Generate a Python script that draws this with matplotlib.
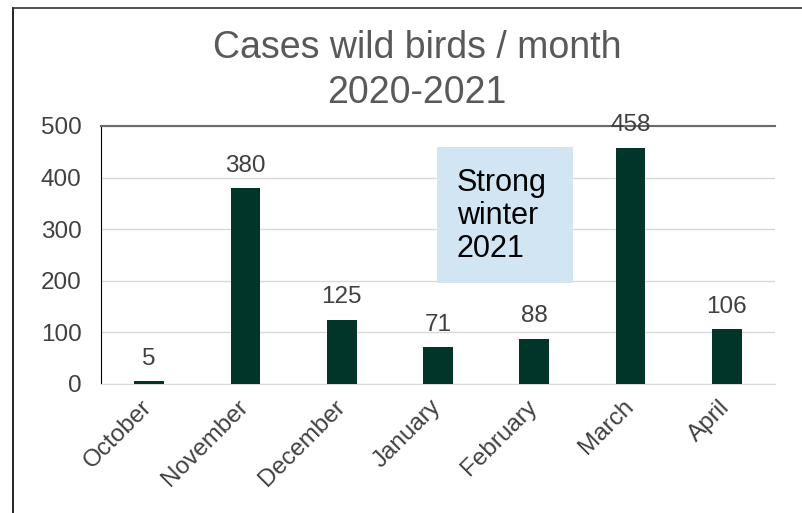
import matplotlib.pyplot as plt
from matplotlib.lines import Line2D
from matplotlib.transforms import ScaledTranslation

months = ["October", "November", "December", "January", "February", "March", "April"]
cases = [5, 380, 125, 71, 88, 458, 106]
yticks = [0, 100, 200, 300, 400, 500]

plt.rcParams['font.family'] = ['Liberation Sans', 'DejaVu Sans']

fig = plt.figure(figsize=(8.03, 5.13), dpi=100)
ax = fig.add_axes([101 / 803, 1 - 384 / 513, 674 / 803, 258 / 513])

bars = ax.bar(range(len(months)), cases, width=0.31, color="#02352a", zorder=3)
for b, v in zip(bars, cases):
    ax.text(b.get_x() + b.get_width() / 2, v + 22, str(v), ha="center", va="bottom",
            fontsize=17.5, color="#404040", zorder=4)

ax.set_xlim(-0.5, len(months) - 0.5)
ax.set_ylim(0, 500)
ax.set_yticks(yticks)
ax.set_yticklabels([str(t) for t in yticks], fontsize=17.5, color="#404040")
ax.set_xticks(range(len(months)))
ax.set_xticklabels(months, rotation=45, ha="right", rotation_mode="anchor",
                   fontsize=17.5, color="#404040")
ax.tick_params(axis="y", length=0, pad=14)
ax.tick_params(axis="x", length=0, pad=10)
shift = ScaledTranslation(-8 / 100, 2 / 100, fig.dpi_scale_trans)
for lbl in ax.get_xticklabels():
    lbl.set_transform(lbl.get_transform() + shift)

ax.grid(axis="y", color="#d9d9d9", linewidth=1, zorder=0)
ax.spines["right"].set_visible(False)
ax.spines["top"].set_color("#6b6b6b")
ax.spines["top"].set_linewidth(1.5)
ax.spines["bottom"].set_color("#d9d9d9")
ax.spines["left"].set_color("#000000")
ax.spines["left"].set_linewidth(0.8)

fig.text(417 / 803, 1 - 48 / 513, "Cases wild birds / month", ha="center", va="center",
         fontsize=27, color="#595959")
fig.text(417 / 803, 1 - 93 / 513, "2020-2021", ha="center", va="center",
         fontsize=27, color="#595959")

# text box
fig.patches.append(plt.Rectangle((437 / 803, 1 - 283 / 513), 136 / 803, 136 / 513,
                                 transform=fig.transFigure, facecolor="#d2e5f3",
                                 edgecolor="none", zorder=5))
fig.text(457 / 803, 1 - 216 / 513, "Strong\nwinter\n2021", ha="left", va="center",
         fontsize=22, color="black", linespacing=1.15, zorder=6)

# outer frame
fig.add_artist(Line2D([13 / 803, 13 / 803], [0, 1 - 8 / 513], color="black", linewidth=1.2,
                      transform=fig.transFigure))
fig.add_artist(Line2D([13 / 803, 1], [1 - 8 / 513, 1 - 8 / 513], color="#333333", linewidth=1.2,
                      transform=fig.transFigure))

fig.savefig("out.png", dpi=100)
